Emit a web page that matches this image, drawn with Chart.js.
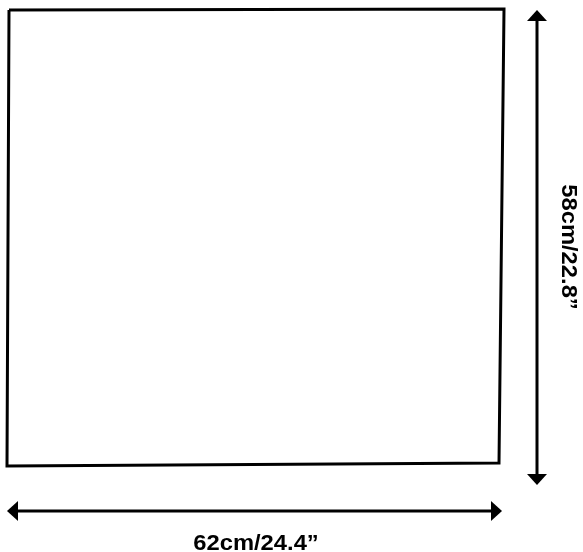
<html>
  <head>
    <script src="https://cdn.jsdelivr.net/npm/chart.js@4.4.0/dist/chart.umd.min.js"></script>
    <style>
      body { margin: 0; background: #fff; }
      #wrap { width: 583px; height: 552px; }
    </style>
  </head>
  <body>
    <div id="wrap"><canvas id="myChart"></canvas></div>
  </body>
  <script>
    // outline of the sheet, corners in drawing units (x right, y down)
    const boxX = [9, 504, 499, 7, 9];
    const boxY = [10, 9, 463, 466, 10];
    // dimension arrows: shaft ends (arrowheads sit beyond these)
    const heightArrowX = [537, 537];
    const heightArrowY = [21, 474];
    const widthArrowX = [18, 491];
    const widthArrowY = [511, 511];
    // labels
    const heightLabel = '58cm/22.8\u201d';
    const widthLabel = '62cm/24.4\u201d';
    const heightLabelAt = [562, 247];
    const widthLabelAt = [256, 550];

    const toPoints = (xs, ys) => xs.map((x, i) => ({ x: x, y: ys[i] }));

    // arrowhead image, pointing up, centred on its base
    const head = document.createElement('canvas');
    head.width = 22;
    head.height = 22;
    const hctx = head.getContext('2d');
    hctx.fillStyle = '#000';
    hctx.beginPath();
    hctx.moveTo(11, 0);
    hctx.lineTo(21, 11);
    hctx.lineTo(1, 11);
    hctx.closePath();
    hctx.fill();

    const labelPlugin = {
      id: 'labels',
      afterDatasetsDraw(chart) {
        const c = chart.ctx;
        const sx = chart.scales.x, sy = chart.scales.y;
        c.save();
        c.fillStyle = '#000';
        c.font = 'bold 22px "Liberation Sans", Arial, sans-serif';
        c.textAlign = 'center';
        c.textBaseline = 'alphabetic';
        c.save();
        c.translate(sx.getPixelForValue(widthLabelAt[0]), sy.getPixelForValue(widthLabelAt[1]));
        c.scale(1.08, 1);
        c.fillText(widthLabel, 0, 0);
        c.restore();
        c.translate(sx.getPixelForValue(heightLabelAt[0]), sy.getPixelForValue(heightLabelAt[1]));
        c.rotate(Math.PI / 2);
        c.scale(1.08, 1);
        c.fillText(heightLabel, 0, 0);
        c.restore();
      }
    };

    var ctx = document.getElementById('myChart').getContext('2d');
    var myChart = new Chart(ctx, {
      type: 'scatter',
      data: {
        datasets: [{
          data: toPoints(boxX, boxY),
          showLine: true,
          borderColor: '#000',
          borderWidth: 3,
          borderJoinStyle: 'miter',
          pointRadius: 0
        }, {
          data: toPoints(heightArrowX, heightArrowY),
          showLine: true,
          borderColor: '#000',
          borderWidth: 3,
          pointStyle: head,
          rotation: [0, 180]
        }, {
          data: toPoints(widthArrowX, widthArrowY),
          showLine: true,
          borderColor: '#000',
          borderWidth: 3,
          pointStyle: head,
          rotation: [-90, 90]
        }]
      },
      options: {
        responsive: true,
        maintainAspectRatio: false,
        animation: false,
        layout: { padding: 0, autoPadding: false },
        plugins: { legend: { display: false }, tooltip: { enabled: false } },
        scales: {
          x: { type: 'linear', min: 0, max: 583, display: false },
          y: { type: 'linear', min: 0, max: 552, reverse: true, display: false }
        }
      },
      plugins: [labelPlugin]
    });
  </script>
</html>
